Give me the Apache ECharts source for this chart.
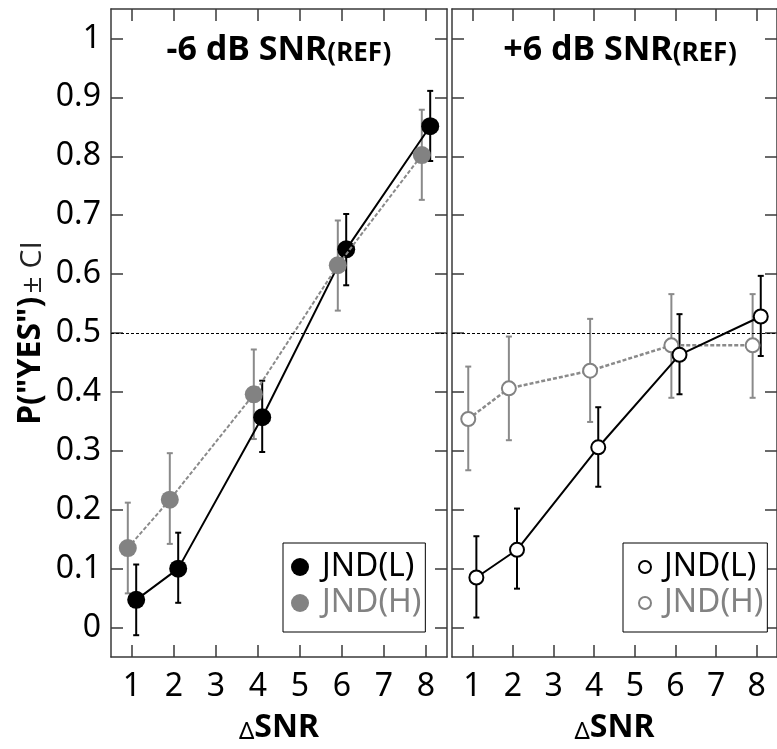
<!DOCTYPE html>
<html>
<head>
<meta charset="utf-8">
<script src="https://cdn.jsdelivr.net/npm/echarts@6/dist/echarts.min.js"></script>
<style>
html,body{margin:0;padding:0;background:#fff;}
#chart{width:777px;height:749px;}
</style>
</head>
<body>
<div id="chart"></div>
<script>
// ---- data ----
var snrLevels = [1, 2, 4, 6, 8];
var xTickValues = [1, 2, 3, 4, 5, 6, 7, 8];
var yTickValues = [0, 0.1, 0.2, 0.3, 0.4, 0.5, 0.6, 0.7, 0.8, 0.9, 1];
var yTickLabels = ['0', '0.1', '0.2', '0.3', '0.4', '0.5', '0.6', '0.7', '0.8', '0.9', '1'];
var panelTitles = ['-6 dB SNR', '+6 dB SNR'];
var legendLabels = ['JND(L)', 'JND(H)'];

// -6 dB SNR(REF)
var lowM = [0.047, 0.100, 0.357, 0.642, 0.851];
var lowMLo = [-0.013, 0.042, 0.298, 0.581, 0.792];
var lowMHi = [0.107, 0.161, 0.419, 0.702, 0.911];
var highM = [0.135, 0.217, 0.396, 0.615, 0.802];
var highMLo = [0.058, 0.142, 0.320, 0.538, 0.726];
var highMHi = [0.212, 0.296, 0.472, 0.691, 0.879];
// +6 dB SNR(REF)
var lowP = [0.085, 0.132, 0.306, 0.463, 0.528];
var lowPLo = [0.017, 0.066, 0.239, 0.396, 0.461];
var lowPHi = [0.155, 0.202, 0.374, 0.532, 0.597];
var highP = [0.354, 0.406, 0.436, 0.479, 0.479];
var highPLo = [0.267, 0.318, 0.349, 0.390, 0.390];
var highPHi = [0.443, 0.494, 0.524, 0.566, 0.566];

// ---- style ----
var FONT = 'Noto Sans';
var GRAY = '#828282';
var FRAME = '#3a3a3a';
var OFF_L = 0.1, OFF_H = -0.1;

function pts(vals, off) { return snrLevels.map(function (s, i) { return [s + off, vals[i]]; }); }
function bars(lo, hi, off) { return snrLevels.map(function (s, i) { return [s + off, lo[i], hi[i]]; }); }

function errSeries(name, data, color, xi, yi, z) {
  return {
    type: 'custom', name: name, xAxisIndex: xi, yAxisIndex: yi, z: z, silent: true,
    data: data, clip: false,
    renderItem: function (params, api) {
      var x = api.value(0);
      var top = api.coord([x, api.value(2)]);
      var bot = api.coord([x, api.value(1)]);
      var cw = 3;
      var st = { stroke: color, lineWidth: 2 };
      return {
        type: 'group', children: [
          { type: 'line', shape: { x1: top[0], y1: top[1], x2: bot[0], y2: bot[1] }, style: st },
          { type: 'line', shape: { x1: top[0] - cw, y1: top[1], x2: top[0] + cw, y2: top[1] }, style: st },
          { type: 'line', shape: { x1: bot[0] - cw, y1: bot[1], x2: bot[0] + cw, y2: bot[1] }, style: st }
        ]
      };
    }
  };
}

var refLine = {
  silent: true, symbol: 'none', label: { show: false },
  lineStyle: { color: '#000', type: [3, 2], width: 1 },
  data: [{ yAxis: 0.5 }]
};

function xAxisDef(grid, pos, showLabel, showName) {
  return {
    type: 'value', gridIndex: grid, position: pos, min: 0.5, max: 8.5,
    axisLine: { show: true, onZero: false, lineStyle: { color: FRAME, width: 1.5 } },
    axisTick: { show: true, inside: true, length: 12, customValues: xTickValues, lineStyle: { color: FRAME, width: 1.5 } },
    axisLabel: { show: showLabel, customValues: xTickValues, margin: 14, color: '#000', fontFamily: FONT, fontSize: 32 },
    splitLine: { show: false },
    name: showName ? '{d|\u0394}{b|SNR}' : '',
    nameLocation: 'middle', nameGap: 55,
    nameTextStyle: {
      rich: {
        d: { fontFamily: FONT, fontSize: 24, color: '#000', verticalAlign: 'bottom' },
        b: { fontFamily: FONT, fontSize: 32, fontWeight: 'bold', color: '#000', verticalAlign: 'bottom' }
      }
    }
  };
}
function yAxisDef(grid, pos, showLabel, showName) {
  return {
    type: 'value', gridIndex: grid, position: pos, min: -0.05, max: 1.05,
    axisLine: { show: true, onZero: false, lineStyle: { color: FRAME, width: 1.5 } },
    axisTick: { show: true, inside: true, length: 12, customValues: yTickValues, lineStyle: { color: FRAME, width: 1.5 } },
    axisLabel: {
      show: showLabel, customValues: yTickValues, margin: 10, color: '#000', fontFamily: FONT, fontSize: 32,
      formatter: function (v) { var i = yTickValues.findIndex(function (t) { return Math.abs(t - v) < 1e-6; }); return i >= 0 ? yTickLabels[i] : ''; }
    },
    splitLine: { show: false },
    name: showName ? '{b|P("YES")} {n|\u00b1 CI}' : '',
    nameLocation: 'middle', nameGap: 64,
    nameTextStyle: {
      rich: {
        b: { fontFamily: FONT, fontSize: 32, fontWeight: 'bold', color: '#000', verticalAlign: 'bottom' },
        n: { fontFamily: 'Open Sans', fontSize: 30, color: '#222', verticalAlign: 'bottom' }
      }
    }
  };
}

var nameMap = { Lm: legendLabels[0], Hm: legendLabels[1], Lp: legendLabels[0], Hp: legendLabels[1] };

var option = {
  animation: false,
  backgroundColor: '#fff',
  grid: [
    { left: 111, top: 9, width: 336, height: 652 },
    { left: 452, top: 9, width: 335, height: 652 }
  ],
  xAxis: [
    xAxisDef(0, 'bottom', true, true), xAxisDef(0, 'top', false, false),
    xAxisDef(1, 'bottom', true, true), xAxisDef(1, 'top', false, false)
  ],
  yAxis: [
    yAxisDef(0, 'left', true, true), yAxisDef(0, 'right', false, false),
    yAxisDef(1, 'left', false, false), yAxisDef(1, 'right', false, false)
  ],
  legend: [
    {
      orient: 'vertical', left: 283, top: 543, itemWidth: 18, itemHeight: 18, itemGap: 4,
      padding: [8, 4, 13, 8], borderColor: '#000', borderWidth: 1, backgroundColor: '#fff',
      selectedMode: false, icon: 'circle',
      formatter: function (n) { return nameMap[n]; },
      textStyle: { fontFamily: FONT, fontSize: 32, padding: [0, 0, 0, 8] },
      data: [
        { name: 'Lm', icon: 'circle', itemStyle: { color: '#000' }, textStyle: { color: '#000' } },
        { name: 'Hm', icon: 'circle', itemStyle: { color: GRAY }, textStyle: { color: GRAY } }
      ]
    },
    {
      orient: 'vertical', left: 623, top: 543, itemWidth: 12, itemHeight: 12, itemGap: 4,
      padding: [8, 4, 13, 15], borderColor: '#000', borderWidth: 1, backgroundColor: '#fff',
      selectedMode: false, icon: 'circle',
      formatter: function (n) { return nameMap[n]; },
      textStyle: { fontFamily: FONT, fontSize: 32, padding: [0, 0, 0, 8] },
      data: [
        { name: 'Lp', icon: 'circle', itemStyle: { color: '#fff', borderColor: '#000', borderWidth: 2 }, textStyle: { color: '#000' } },
        { name: 'Hp', icon: 'circle', itemStyle: { color: '#fff', borderColor: GRAY, borderWidth: 2 }, textStyle: { color: GRAY } }
      ]
    }
  ],
  graphic: [
    {
      type: 'text', x: 279, y: 50, z: 10,
      style: {
        text: '{a|' + panelTitles[0] + '}{r|(REF)}', align: 'center', verticalAlign: 'middle',
        rich: {
          a: { fontFamily: FONT, fontSize: 34, fontWeight: 'bold', fill: '#000', verticalAlign: 'bottom' },
          r: { fontFamily: FONT, fontSize: 26, fontWeight: 'bold', fill: '#000', verticalAlign: 'bottom' }
        }
      }
    },
    {
      type: 'text', x: 620, y: 50, z: 10,
      style: {
        text: '{a|' + panelTitles[1] + '}{r|(REF)}', align: 'center', verticalAlign: 'middle',
        rich: {
          a: { fontFamily: FONT, fontSize: 34, fontWeight: 'bold', fill: '#000', verticalAlign: 'bottom' },
          r: { fontFamily: FONT, fontSize: 26, fontWeight: 'bold', fill: '#000', verticalAlign: 'bottom' }
        }
      }
    }
  ],
  series: [
    // left panel
    errSeries('eHm', bars(highMLo, highMHi, OFF_H), '#8a8a8a', 0, 0, 1),
    errSeries('eLm', bars(lowMLo, lowMHi, OFF_L), '#000', 0, 0, 1),
    {
      name: 'Lm', type: 'line', xAxisIndex: 0, yAxisIndex: 0, z: 3, data: pts(lowM, OFF_L),
      symbol: 'circle', symbolSize: 18, itemStyle: { color: '#000' },
      lineStyle: { color: '#000', width: 2 }, markLine: refLine
    },
    {
      name: 'Hm', type: 'line', xAxisIndex: 0, yAxisIndex: 0, z: 4, data: pts(highM, OFF_H),
      symbol: 'circle', symbolSize: 18, itemStyle: { color: GRAY },
      lineStyle: { color: '#8a8a8a', width: 2, type: [4, 2] }
    },
    // right panel
    errSeries('eHp', bars(highPLo, highPHi, OFF_H), '#8a8a8a', 2, 2, 1),
    errSeries('eLp', bars(lowPLo, lowPHi, OFF_L), '#000', 2, 2, 1),
    {
      name: 'Hp', type: 'line', xAxisIndex: 2, yAxisIndex: 2, z: 3, data: pts(highP, OFF_H),
      symbol: 'circle', symbolSize: 14, itemStyle: { color: '#fff', borderColor: GRAY, borderWidth: 2 },
      lineStyle: { color: '#8a8a8a', width: 2.5, type: [4, 2] }, markLine: refLine
    },
    {
      name: 'Lp', type: 'line', xAxisIndex: 2, yAxisIndex: 2, z: 4, data: pts(lowP, OFF_L),
      symbol: 'circle', symbolSize: 14, itemStyle: { color: '#fff', borderColor: '#000', borderWidth: 2 },
      lineStyle: { color: '#000', width: 2 }
    }
  ]
};

var chart = echarts.init(document.getElementById('chart'), null, { renderer: 'canvas' });
chart.setOption(option);
</script>
</body>
</html>
